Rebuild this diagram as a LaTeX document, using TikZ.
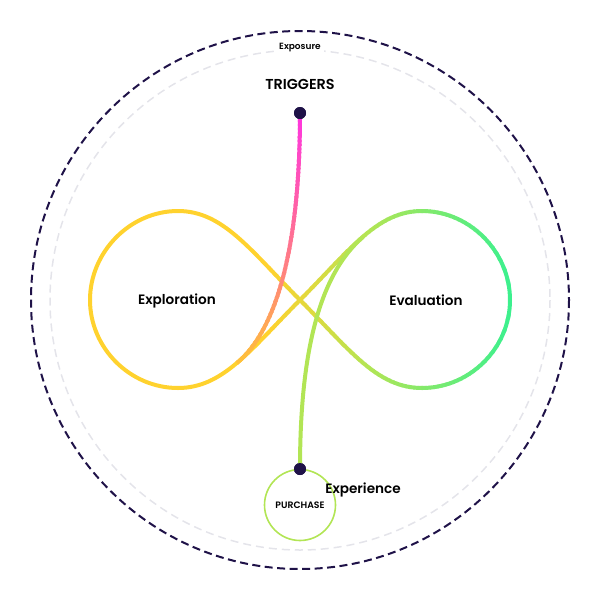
\documentclass[tikz,border=0pt]{standalone}
\usepackage{fontspec}
\setmainfont{Poppins}[BoldFont={Poppins SemiBold}]
\definecolor{navy}{HTML}{1F1248}
\definecolor{ringgray}{HTML}{E4E4EA}
\definecolor{ylw}{HTML}{FFD22E}
\definecolor{lime}{HTML}{B2E555}
\definecolor{grn}{HTML}{3CF08E}
\definecolor{mag}{HTML}{FF33E0}
\definecolor{sal}{HTML}{FF8080}
\definecolor{org}{HTML}{FFC238}
\begin{document}
\begin{tikzpicture}[x=1pt,y=-1pt,
  lobe/.style={line width=4pt, line join=round},
  lab/.style={font=\fontsize{13.6}{16}\selectfont\bfseries, text=black},
  smalllab/.style={font=\fontsize{9}{11}\selectfont\bfseries, text=black},
  dotnode/.style={circle, fill=navy, minimum size=12pt, inner sep=0pt},
  outerring/.style={draw=navy, line width=2pt, dash pattern=on 8pt off 4.5pt},
  innerring/.style={draw=ringgray, line width=1.5pt, dash pattern=on 8pt off 5pt}]
\useasboundingbox (0,0) rectangle (600,600);
\def\infpath{(300,300) .. controls (250,250) and (223,211) .. (178,211)
  .. controls (130,211) and (90,252) .. (90,300)
  .. controls (90,348) and (130,388) .. (178,388)
  .. controls (223,388) and (250,350) .. (300,300)
  .. controls (350,250) and (377,211) .. (422,211)
  .. controls (470,211) and (510,252) .. (510,300)
  .. controls (510,348) and (470,388) .. (422,388)
  .. controls (377,388) and (350,350) .. (300,300) -- cycle}
\def\pinkpath{(300,113) .. controls (300,230) and (282,325) .. (237,363)}
% rings
\node (centre) at (300,300) {};
\draw[outerring] (centre.center) circle[radius=269];
\draw[innerring] (centre.center) circle[radius=250];
\node[smalllab, fill=white, inner sep=3pt] (exposure) at (300,48) {Exposure};
% infinity loop with horizontal gradient
\begin{scope}
  \clip (0,0) rectangle (270.5,600);
  \draw[lobe, draw=ylw] \infpath;
\end{scope}
\foreach \xa in {270,274,...,522} {
  \pgfmathsetmacro\pa{max(0,min(100,(\xa+2-270)))}
  \pgfmathsetmacro\pb{max(0,min(100,(\xa+2-370)/1.4))}
  \begin{scope}
    \clip (\xa-0.5,0) rectangle (\xa+4.5,600);
    \draw[lobe, draw={grn!\pb!lime!\pa!ylw}] \infpath;
  \end{scope}
}
% triggers line with vertical gradient
\foreach \ya in {105,109,...,373} {
  \pgfmathsetmacro\qa{max(0,min(100,(\ya+2-113)/1.57))}
  \pgfmathsetmacro\qb{max(0,min(100,(\ya+2-270)/0.95))}
  \begin{scope}
    \clip (0,\ya-0.5) rectangle (600,\ya+4.5);
    \draw[lobe, draw={org!\qb!sal!\qa!mag}] \pinkpath;
  \end{scope}
}
% purchase line
\node[dotnode] (trig) at (300,113) {};
\node[dotnode] (purch) at (300,469) {};
\coordinate (merge) at (363,237);
\draw[lobe, draw=lime] (purch.center) .. controls (300,350) and (320,274) .. (merge);
\node[draw=lime, line width=1.6pt, circle, minimum size=71pt, inner sep=0pt] (pcircle) at (300,505) {};
\node[dotnode] at (purch.center) {};
\node[dotnode] at (trig.center) {};
% labels
\node[lab, font=\fontsize{14.4}{16}\selectfont\bfseries] (triggers) at (300,84) {TRIGGERS};
\node[lab] (explor) at (177,300.5) {Exploration};
\node[lab] (evalu) at (426,300.5) {Evaluation};
\node[lab] (exper) at (363,490) {Experience};
\node[smalllab, font=\fontsize{9.3}{11}\selectfont\bfseries] (purchase) at (300,505) {PURCHASE};
\end{tikzpicture}
\end{document}
